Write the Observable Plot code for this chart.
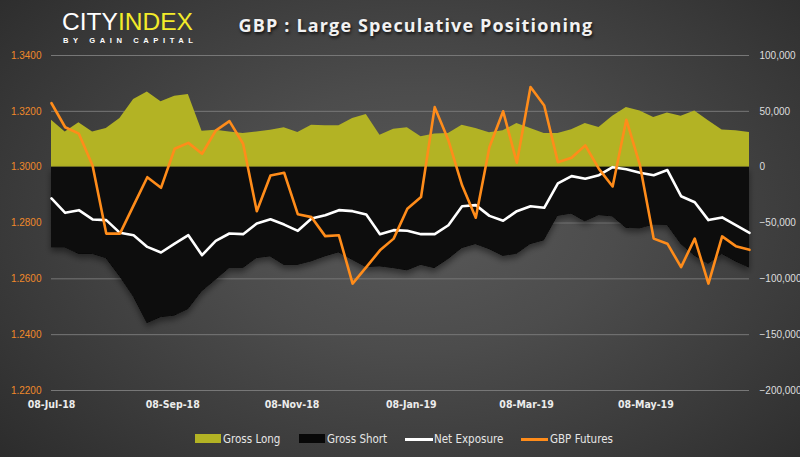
<!DOCTYPE html>
<html>
<head>
<meta charset="utf-8">
<script src="https://cdn.jsdelivr.net/npm/d3@7"></script>
<script src="https://cdn.jsdelivr.net/npm/@observablehq/plot@0.6"></script>
<style>
  html, body { margin: 0; padding: 0; }
  body { width: 800px; height: 457px; overflow: hidden; background: #333; }
  #wrap {
    position: relative; width: 800px; height: 457px; overflow: hidden;
    background: radial-gradient(ellipse 72% 82% at 52% 48%, #595959 0%, #4c4c4c 35%, #3a3a3a 70%, #2a2a2a 100%);
    font-family: "Liberation Sans", Arial, sans-serif;
  }
  #header { position: relative; width: 800px; height: 48px; }
  #logo { position: absolute; left: 0; top: 0; }
  #title {
    position: absolute; left: 416px; top: 16px; transform: translateX(-50%);
    white-space: nowrap; color: #f2f2f2; font: bold 18px/18px "Open Sans", sans-serif;
    letter-spacing: 1.15px; text-shadow: 1px 2px 3px rgba(0,0,0,0.75);
  }
  #chart { position: absolute; left: 0; top: 48px; }
  #legend { position: absolute; left: 0; top: 429px; width: 800px; height: 20px;
    font: 11.5px "Liberation Sans Narrow", "DejaVu Sans Condensed", sans-serif; color: #e6e6e6; }
  .lg { position: absolute; top: 0; height: 20px; line-height: 20px; white-space: nowrap; }
  .sw { position: absolute; }
</style>
</head>
<body>
<div id="wrap">
  <div id="header">
    <svg id="logo" width="220" height="48">
      <text x="62" y="30" font-family="Liberation Sans, Arial, sans-serif" font-size="23.5" textLength="131" lengthAdjust="spacingAndGlyphs"><tspan fill="#ffffff">CITY</tspan><tspan fill="#f3eb2a">INDEX</tspan></text>
      <text x="63" y="43" font-family="Liberation Sans, Arial, sans-serif" font-size="7.6" font-weight="bold" fill="#ffffff" textLength="130" lengthAdjust="spacing">BY GAIN CAPITAL</text>
    </svg>
    <div id="title">GBP : Large Speculative Positioning</div>
  </div>
  <div id="chart"></div>
  <div id="legend"></div>
</div>
<script>
// ---- Data (weekly) ----
const dates = [
  "2018-07-08","2018-07-15","2018-07-22","2018-07-29","2018-08-05","2018-08-12","2018-08-19","2018-08-26",
  "2018-09-02","2018-09-09","2018-09-16","2018-09-23","2018-09-30","2018-10-07","2018-10-14","2018-10-21",
  "2018-10-28","2018-11-04","2018-11-11","2018-11-18","2018-11-25","2018-12-02","2018-12-09","2018-12-16",
  "2018-12-23","2018-12-30","2019-01-06","2019-01-13","2019-01-20","2019-01-27","2019-02-03","2019-02-10",
  "2019-02-17","2019-02-24","2019-03-03","2019-03-10","2019-03-17","2019-03-24","2019-03-31","2019-04-07",
  "2019-04-14","2019-04-21","2019-04-28","2019-05-05","2019-05-12","2019-05-19","2019-05-26","2019-06-02",
  "2019-06-09","2019-06-16","2019-06-23","2019-06-30"
];
const grossLong = [42100,31600,39700,31600,34600,43600,60600,67400,58500,63600,65100,32200,33100,31600,30200,31600,
  33100,35200,31000,37600,37000,37000,43600,47200,28600,34000,35200,27140,29600,30200,37600,34600,30800,32600,39100,
  34600,30200,30200,33600,39100,35500,45700,53400,50400,44500,48600,45700,50400,41500,33200,32600,31000];
const grossShort = [-72200,-72200,-77900,-77900,-81800,-98200,-116200,-140000,-134600,-133200,-127400,-111600,-101200,
  -90800,-90800,-81800,-80300,-87800,-87800,-84800,-80300,-76700,-83300,-89800,-89200,-90800,-92800,-87800,-90800,
  -82600,-72800,-69200,-73700,-79700,-77900,-69200,-65800,-44000,-42000,-48800,-43200,-44500,-54800,-55200,-51800,
  -52000,-69000,-79600,-87000,-78000,-84800,-90400];
const netExposure = [-28000,-40900,-38500,-46800,-47400,-58800,-60900,-71400,-76400,-68400,-60900,-78800,-66000,-59400,
  -60000,-50400,-46600,-51400,-57000,-46000,-43000,-38500,-39400,-42400,-60000,-56400,-57000,-60000,-60000,-52000,
  -35000,-34000,-43600,-48000,-39400,-35000,-36400,-14600,-8000,-10400,-7200,0,-1800,-5000,-7200,-2600,-26000,-31400,
  -47400,-45000,-52000,-58800];
const gbpFutures = [1.3229,1.3143,1.3120,1.3006,1.2762,1.2762,1.2863,1.2964,1.2926,1.3066,1.3087,1.3048,1.3131,1.3165,
  1.3084,1.2842,1.2970,1.2980,1.2831,1.2821,1.2753,1.2756,1.2583,1.2642,1.2702,1.2744,1.2851,1.2893,1.3215,1.3096,
  1.2935,1.2819,1.3072,1.3200,1.3016,1.3287,1.3221,1.3018,1.3034,1.3078,1.2994,1.2931,1.3170,1.3006,1.2744,1.2726,
  1.2642,1.2744,1.2583,1.2752,1.2717,1.2704];

const rightTicks = [100000, 50000, 0, -50000, -100000, -150000, -200000];
const leftTicks = [1.34, 1.32, 1.30, 1.28, 1.26, 1.24, 1.22];
const xTickLabels = ["2018-07-08","2018-09-08","2018-11-08","2019-01-08","2019-03-08","2019-05-08"];

// ---- Styles ----
const OLIVE = "#b3b324", DARK = "rgb(8,8,8)", ORANGE = "#ff8c1a", WHITE = "#ffffff";

// left (price) axis mapped onto right (contracts) axis: 1.34 <-> 100,000 ; 1.22 <-> -200,000
const priceToY = p => (p - 1.30) * 2500000;
const yToPrice = v => v / 2500000 + 1.30;

const parse = d3.utcParse("%Y-%m-%d");
const rows = dates.map((d, i) => ({
  date: parse(d), gl: grossLong[i], gs: grossShort[i], net: netExposure[i], fut: priceToY(gbpFutures[i])
}));

const chart = Plot.plot({
  width: 800,
  height: 377,
  marginTop: 7,
  marginBottom: 35,
  marginLeft: 51,
  marginRight: 51,
  style: { background: "transparent", overflow: "visible" },
  x: { type: "utc", domain: [parse(dates[0]), parse(dates[dates.length - 1])] },
  y: { domain: [-200000, 100000] },
  marks: [
    Plot.ruleY(rightTicks, { stroke: "#777777", strokeWidth: 1 }),
    Plot.areaY(rows, { x: "date", y1: 0, y2: "gl", fill: OLIVE }),
    Plot.areaY(rows, { x: "date", y1: 0, y2: "gs", fill: DARK, fillOpacity: 1 }),
    Plot.lineY(rows, { x: "date", y: "net", stroke: WHITE, strokeWidth: 2.6 }),
    Plot.lineY(rows, { x: "date", y: "fut", stroke: ORANGE, strokeWidth: 2.6 }),
    Plot.axisY(rightTicks, {
      anchor: "right", tickSize: 0, tickPadding: 10, label: null,
      tickFormat: d3.format(","), fill: "#dedede", fontSize: 10,
      fontFamily: "Liberation Sans, Arial, sans-serif"
    }),
    Plot.axisY(leftTicks.map(priceToY), {
      anchor: "left", tickSize: 0, tickPadding: 10, label: null,
      tickFormat: v => yToPrice(v).toFixed(4), fill: "#f0892a", fontSize: 10,
      fontFamily: "Liberation Sans, Arial, sans-serif"
    }),
    Plot.axisX(xTickLabels.map(parse), {
      anchor: "bottom", tickSize: 0, tickPadding: 10, label: null,
      tickFormat: d3.utcFormat("%d-%b-%y"), fill: "#ececec", fontSize: 10.5, fontWeight: "bold",
      fontFamily: "Liberation Sans Narrow, DejaVu Sans Condensed, sans-serif"
    })
  ]
});
// soft shadow below the gross-short area
const NS = "http://www.w3.org/2000/svg";
const defs = document.createElementNS(NS, "defs");
const filt = document.createElementNS(NS, "filter");
filt.setAttribute("id", "gsShadow");
filt.setAttribute("x", "-5%"); filt.setAttribute("y", "-10%");
filt.setAttribute("width", "110%"); filt.setAttribute("height", "140%");
const ds = document.createElementNS(NS, "feDropShadow");
ds.setAttribute("dx", "0"); ds.setAttribute("dy", "4"); ds.setAttribute("stdDeviation", "3");
ds.setAttribute("flood-color", "#000"); ds.setAttribute("flood-opacity", "0.45");
filt.appendChild(ds); defs.appendChild(filt);
chart.insertBefore(defs, chart.firstChild);
const darkGroup = Array.from(chart.querySelectorAll("g")).find(g => g.getAttribute("fill") === DARK);
if (darkGroup) darkGroup.setAttribute("filter", "url(#gsShadow)");
document.getElementById("chart").appendChild(chart);

// ---- Legend ----
const legendItems = [
  { label: "Gross Long", kind: "rect", color: OLIVE, x: 195, w: 26, tx: 223 },
  { label: "Gross Short", kind: "rect", color: DARK, x: 299, w: 26, tx: 327 },
  { label: "Net Exposure", kind: "line", color: WHITE, x: 405, w: 28, tx: 434 },
  { label: "GBP Futures", kind: "line", color: ORANGE, x: 521, w: 27, tx: 550 }
];
const legend = document.getElementById("legend");
legendItems.forEach(it => {
  const sw = document.createElement("div");
  sw.className = "sw";
  sw.style.left = it.x + "px";
  sw.style.width = it.w + "px";
  sw.style.backgroundColor = it.color;
  if (it.kind === "rect") { sw.style.top = "5px"; sw.style.height = "9px"; }
  else { sw.style.top = "8.5px"; sw.style.height = "3px"; }
  legend.appendChild(sw);
  const t = document.createElement("div");
  t.className = "lg";
  t.style.left = it.tx + "px";
  t.textContent = it.label;
  legend.appendChild(t);
});
</script>
</body>
</html>
